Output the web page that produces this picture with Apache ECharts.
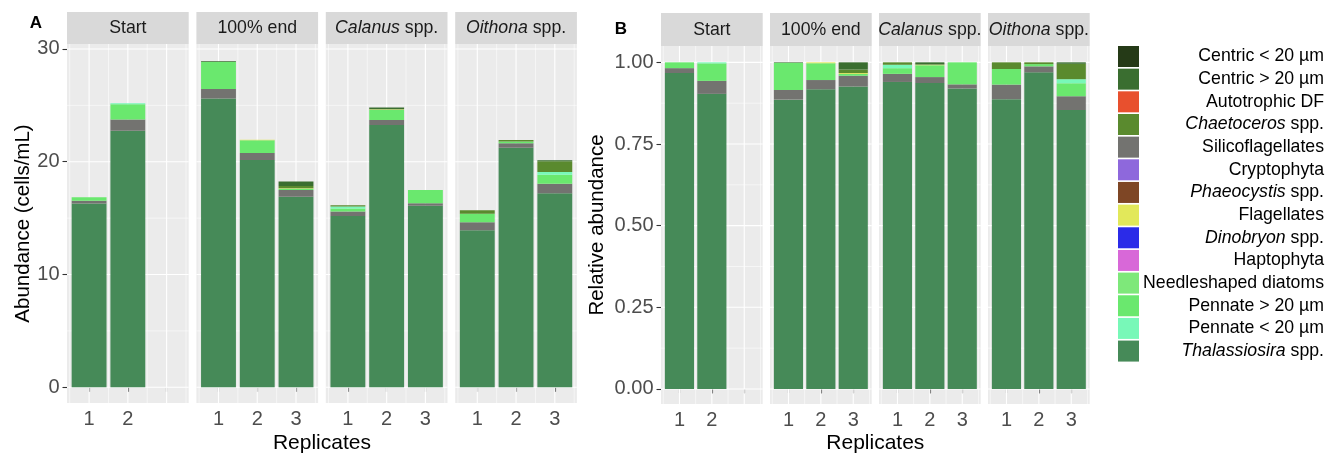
<!DOCTYPE html>
<html>
<head>
<meta charset="utf-8">
<script src="https://cdn.jsdelivr.net/npm/echarts@6/dist/echarts.min.js"></script>
<style>
  html, body { margin: 0; padding: 0; background: #ffffff; }
  #chart { width: 1341px; height: 458px; }
</style>
</head>
<body>
<div id="chart"></div>
<script>
// ---- data ---------------------------------------------------------------
const facets = ['Start', '100% end', 'Calanus spp.', 'Oithona spp.'];
const facetItalic = ['', '', 'Calanus', 'Oithona'];
const replicates = [[1, 2], [1, 2, 3], [1, 2, 3], [1, 2, 3]];
const replicateTicks = [1, 2, 3];
const abundanceTicks = [0, 10, 20, 30];
const abundanceMinor = [5, 15, 25];
const relativeTicks = [0, 0.25, 0.5, 0.75, 1];
const relativeMinor = [0.125, 0.375, 0.625, 0.875];
const replicateMinor = [0.5, 1.5, 2.5, 3.5];

// legend order
const taxa = ['Centric < 20 µm', 'Centric > 20 µm', 'Autotrophic DF', 'Chaetoceros spp.',
  'Silicoflagellates', 'Cryptophyta', 'Phaeocystis spp.', 'Flagellates', 'Dinobryon spp.',
  'Haptophyta', 'Needleshaped diatoms', 'Pennate > 20 µm', 'Pennate < 20 µm', 'Thalassiosira spp.'];
const taxaItalic = ['', '', '', 'Chaetoceros', '', '', 'Phaeocystis', '', 'Dinobryon',
  '', '', '', '', 'Thalassiosira'];
const taxaColors = ['#253a17', '#3a6e30', '#e8502e', '#5a8a2e', '#737370', '#8e68dc', '#7e4625',
  '#e2e85a', '#2b2be8', '#d868d8', '#7ee87a', '#6ae86e', '#78f8b8', '#468a58'];

// stacking order, bottom to top
const stackOrder = ['Thalassiosira spp.', 'Silicoflagellates', 'Pennate > 20 µm', 'Pennate < 20 µm',
  'Needleshaped diatoms', 'Haptophyta', 'Dinobryon spp.', 'Flagellates', 'Phaeocystis spp.',
  'Cryptophyta', 'Chaetoceros spp.', 'Autotrophic DF', 'Centric > 20 µm', 'Centric < 20 µm'];

// abundance (cells/mL) per facet, per replicate
const thalassiosira     = [[16.3, 22.75], [25.6, 20.15, 16.9], [15.18, 23.25, 16.1], [13.93, 21.25, 17.2]];
const silicoflagellates = [[0.25, 1.0],   [0.85, 0.62, 0.6],   [0.4, 0.45, 0.22],    [0.7, 0.4, 0.85]];
const pennateLarge      = [[0.3, 1.35],   [2.4, 1.13, 0.1],    [0.28, 0.9, 1.18],    [0.75, 0.15, 0.8]];
const pennateSmall      = [[0, 0.08],     [0, 0, 0],           [0.17, 0, 0],         [0, 0, 0.25]];
const needleshaped      = [[0, 0],        [0, 0, 0],           [0, 0, 0],            [0, 0, 0]];
const haptophyta        = [[0, 0],        [0, 0, 0],           [0, 0, 0],            [0, 0, 0]];
const dinobryon         = [[0, 0],        [0, 0, 0],           [0, 0, 0],            [0, 0, 0]];
const flagellates       = [[0, 0],        [0, 0.06, 0.05],     [0, 0.05, 0],         [0, 0, 0]];
const phaeocystis       = [[0, 0],        [0, 0, 0],           [0, 0, 0],            [0, 0, 0]];
const cryptophyta       = [[0, 0],        [0, 0, 0],           [0, 0, 0],            [0, 0, 0]];
const chaetoceros       = [[0, 0],        [0, 0, 0.2],         [0.12, 0, 0],         [0.32, 0.12, 0.95]];
const autotrophicDF     = [[0, 0],        [0, 0, 0],           [0, 0, 0],            [0, 0, 0]];
const centricLarge      = [[0, 0],        [0.05, 0, 0.4],      [0, 0.17, 0],         [0, 0, 0.09]];
const centricSmall      = [[0, 0],        [0, 0, 0],           [0, 0, 0],            [0, 0, 0]];

const abundance = {
  'Thalassiosira spp.': thalassiosira,
  'Silicoflagellates': silicoflagellates,
  'Pennate > 20 µm': pennateLarge,
  'Pennate < 20 µm': pennateSmall,
  'Needleshaped diatoms': needleshaped,
  'Haptophyta': haptophyta,
  'Dinobryon spp.': dinobryon,
  'Flagellates': flagellates,
  'Phaeocystis spp.': phaeocystis,
  'Cryptophyta': cryptophyta,
  'Chaetoceros spp.': chaetoceros,
  'Autotrophic DF': autotrophicDF,
  'Centric > 20 µm': centricLarge,
  'Centric < 20 µm': centricSmall
};

// ---- layout -------------------------------------------------------------
const FONT = '"Liberation Sans", Arial, Helvetica, sans-serif';
const X_MIN = 0.43, X_MAX = 3.57, BAR_WIDTH = 0.9;
const panels = [
  { label: 'A', labelPos: [36, 23], relative: false, lefts: [67, 196.4, 325.8, 455.2], width: 121.7,
    stripTop: 12, top: 44, bottom: 403, yMin: -1.39, yMax: 30.44,
    ticks: abundanceTicks, minor: abundanceMinor, title: 'Abundance (cells/mL)', titleX: 23 },
  { label: 'B', labelPos: [621, 29], relative: true, lefts: [661, 770, 879, 988], width: 101.7,
    stripTop: 13, top: 46, bottom: 404, yMin: -0.046, yMax: 1.05,
    ticks: relativeTicks, minor: relativeMinor, title: 'Relative abundance', titleX: 597 }
];

const grids = [], xAxes = [], yAxes = [], series = [], graphics = [];

function barRenderer(params, api) {
  const x = api.value(0), lo = api.value(1), hi = api.value(2);
  if (!(hi > lo)) return null;
  const p0 = api.coord([x, lo]);
  const p1 = api.coord([x, hi]);
  const w = api.size([BAR_WIDTH, 0])[0];
  return {
    type: 'rect',
    shape: { x: p0[0] - w / 2, y: p1[1], width: w, height: p0[1] - p1[1] },
    style: { fill: api.visual('color') }
  };
}

function makeGridRenderer(panel) {
  return function (params, api) {
    const cs = params.coordSys;
    const dir = api.value(0), v = api.value(1), major = api.value(2);
    const lw = major ? 1.1 : 0.55;
    if (dir === 0) {
      const px = api.coord([v, panel.yMin])[0];
      return { type: 'line', shape: { x1: px, y1: cs.y, x2: px, y2: cs.y + cs.height },
               style: { stroke: '#ffffff', lineWidth: lw } };
    }
    const py = api.coord([X_MIN, v])[1];
    return { type: 'line', shape: { x1: cs.x, y1: py, x2: cs.x + cs.width, y2: py },
             style: { stroke: '#ffffff', lineWidth: lw } };
  };
}

panels.forEach(function (panel, pi) {
  facets.forEach(function (facet, fi) {
    const g = grids.length;
    const left = panel.lefts[fi];
    grids.push({
      left: left, top: panel.top, width: panel.width, height: panel.bottom - panel.top,
      show: true, backgroundColor: '#ebebeb', borderWidth: 0, containLabel: false
    });
    xAxes.push({
      type: 'value', gridIndex: g, min: X_MIN, max: X_MAX,
      axisLine: { show: false }, splitLine: { show: false },
      axisTick: { show: true, customValues: replicateTicks, length: 4.5,
                  lineStyle: { color: '#333333', width: 1.1 } },
      axisLabel: { show: true, customValues: replicates[fi], margin: 6,
                   fontFamily: FONT, fontSize: 20, color: '#4d4d4d',
                   formatter: function (v) { return String(Math.round(v)); } }
    });
    const first = fi === 0;
    yAxes.push({
      type: 'value', gridIndex: g, min: panel.yMin, max: panel.yMax,
      axisLine: { show: false }, splitLine: { show: false },
      axisTick: { show: first, customValues: panel.ticks, length: 4.5,
                  lineStyle: { color: '#333333', width: 1.1 } },
      axisLabel: { show: first, customValues: panel.ticks, margin: 7.5,
                   fontFamily: FONT, fontSize: 20, color: '#4d4d4d',
                   formatter: function (v) { return panel.relative ? v.toFixed(2) : String(Math.round(v)); } }
    });

    // panel grid lines
    const lines = [];
    replicateTicks.forEach(function (v) { lines.push([0, v, 1]); });
    replicateMinor.forEach(function (v) { lines.push([0, v, 0]); });
    panel.ticks.forEach(function (v) { lines.push([1, v, 1]); });
    panel.minor.forEach(function (v) { lines.push([1, v, 0]); });
    series.push({
      type: 'custom', name: 'grid-' + g, xAxisIndex: g, yAxisIndex: g, z: 1, silent: true,
      dimensions: ['dir', 'value', 'major'], encode: { x: 'value', y: 'value' },
      renderItem: makeGridRenderer(panel), data: lines, clip: false
    });

    // stacked bars
    const reps = replicates[fi];
    const totals = reps.map(function (r, ri) {
      return stackOrder.reduce(function (s, t) { return s + abundance[t][fi][ri]; }, 0);
    });
    const base = reps.map(function () { return 0; });
    stackOrder.forEach(function (taxon) {
      const ci = taxa.indexOf(taxon);
      const data = reps.map(function (r, ri) {
        let v = abundance[taxon][fi][ri];
        if (panel.relative) v = v / totals[ri];
        const lo = base[ri];
        base[ri] = lo + v;
        return [r, lo, base[ri]];
      });
      series.push({
        type: 'custom', name: taxon, xAxisIndex: g, yAxisIndex: g, z: 2,
        itemStyle: { color: taxaColors[ci] },
        dimensions: ['rep', 'lo', 'hi'], encode: { x: 'rep', y: ['lo', 'hi'] },
        renderItem: barRenderer, data: data
      });
    });

    // facet strip
    const stripH = panel.top - panel.stripTop;
    graphics.push({
      type: 'rect', left: left, top: panel.stripTop, silent: true,
      shape: { width: panel.width, height: stripH }, style: { fill: '#d9d9d9' }
    });
    const it = facetItalic[fi];
    const txt = it ? '{i|' + it + '}{n|' + facet.slice(it.length) + '}' : '{n|' + facet + '}';
    graphics.push({
      type: 'text', x: left + panel.width / 2, y: panel.stripTop + stripH / 2 + 0.5, silent: true,
      style: {
        text: txt, align: 'center', verticalAlign: 'middle',
        rich: {
          n: { fontFamily: FONT, fontSize: 17.7, fill: '#1a1a1a' },
          i: { fontFamily: FONT, fontSize: 17.7, fill: '#1a1a1a', fontStyle: 'italic' }
        }
      }
    });
  });

  // panel tag, axis titles
  graphics.push({
    type: 'text', x: panel.labelPos[0], y: panel.labelPos[1], silent: true,
    style: { text: panel.label, align: 'center', verticalAlign: 'middle',
             fontFamily: FONT, fontSize: 17, fontWeight: 'bold', fill: '#000000' }
  });
  graphics.push({
    type: 'text', x: panel.titleX, y: (panel.top + panel.bottom) / 2, rotation: Math.PI / 2, silent: true,
    style: { text: panel.title, align: 'center', verticalAlign: 'middle',
             fontFamily: FONT, fontSize: 20.5, fill: '#000000' }
  });
  const l0 = panel.lefts[0], l3 = panel.lefts[3] + panel.width;
  graphics.push({
    type: 'text', x: (l0 + l3) / 2, y: 443, silent: true,
    style: { text: 'Replicates', align: 'center', verticalAlign: 'middle',
             fontFamily: FONT, fontSize: 21, fill: '#000000' }
  });
});

function legendLabel(name) {
  const i = taxa.indexOf(name);
  const it = taxaItalic[i];
  return it ? '{i|' + it + '}{n|' + name.slice(it.length) + '}' : '{n|' + name + '}';
}

const chart = echarts.init(document.getElementById('chart'), null, { renderer: 'canvas' });
chart.setOption({
  animation: false,
  backgroundColor: '#ffffff',
  grid: grids,
  xAxis: xAxes,
  yAxis: yAxes,
  series: series,
  graphic: { elements: graphics },
  legend: {
    orient: 'vertical', left: 1113, top: 41,
    itemWidth: 21, itemHeight: 21, itemGap: 1.66, itemTextGap: 5,
    icon: 'rect', selectedMode: false,
    data: taxa,
    formatter: legendLabel,
    textStyle: {
      width: 180, align: 'right',
      rich: {
        n: { fontFamily: FONT, fontSize: 17.7, color: '#000000', align: 'right' },
        i: { fontFamily: FONT, fontSize: 17.7, color: '#000000', fontStyle: 'italic', align: 'right' }
      }
    }
  }
});
</script>
</body>
</html>
